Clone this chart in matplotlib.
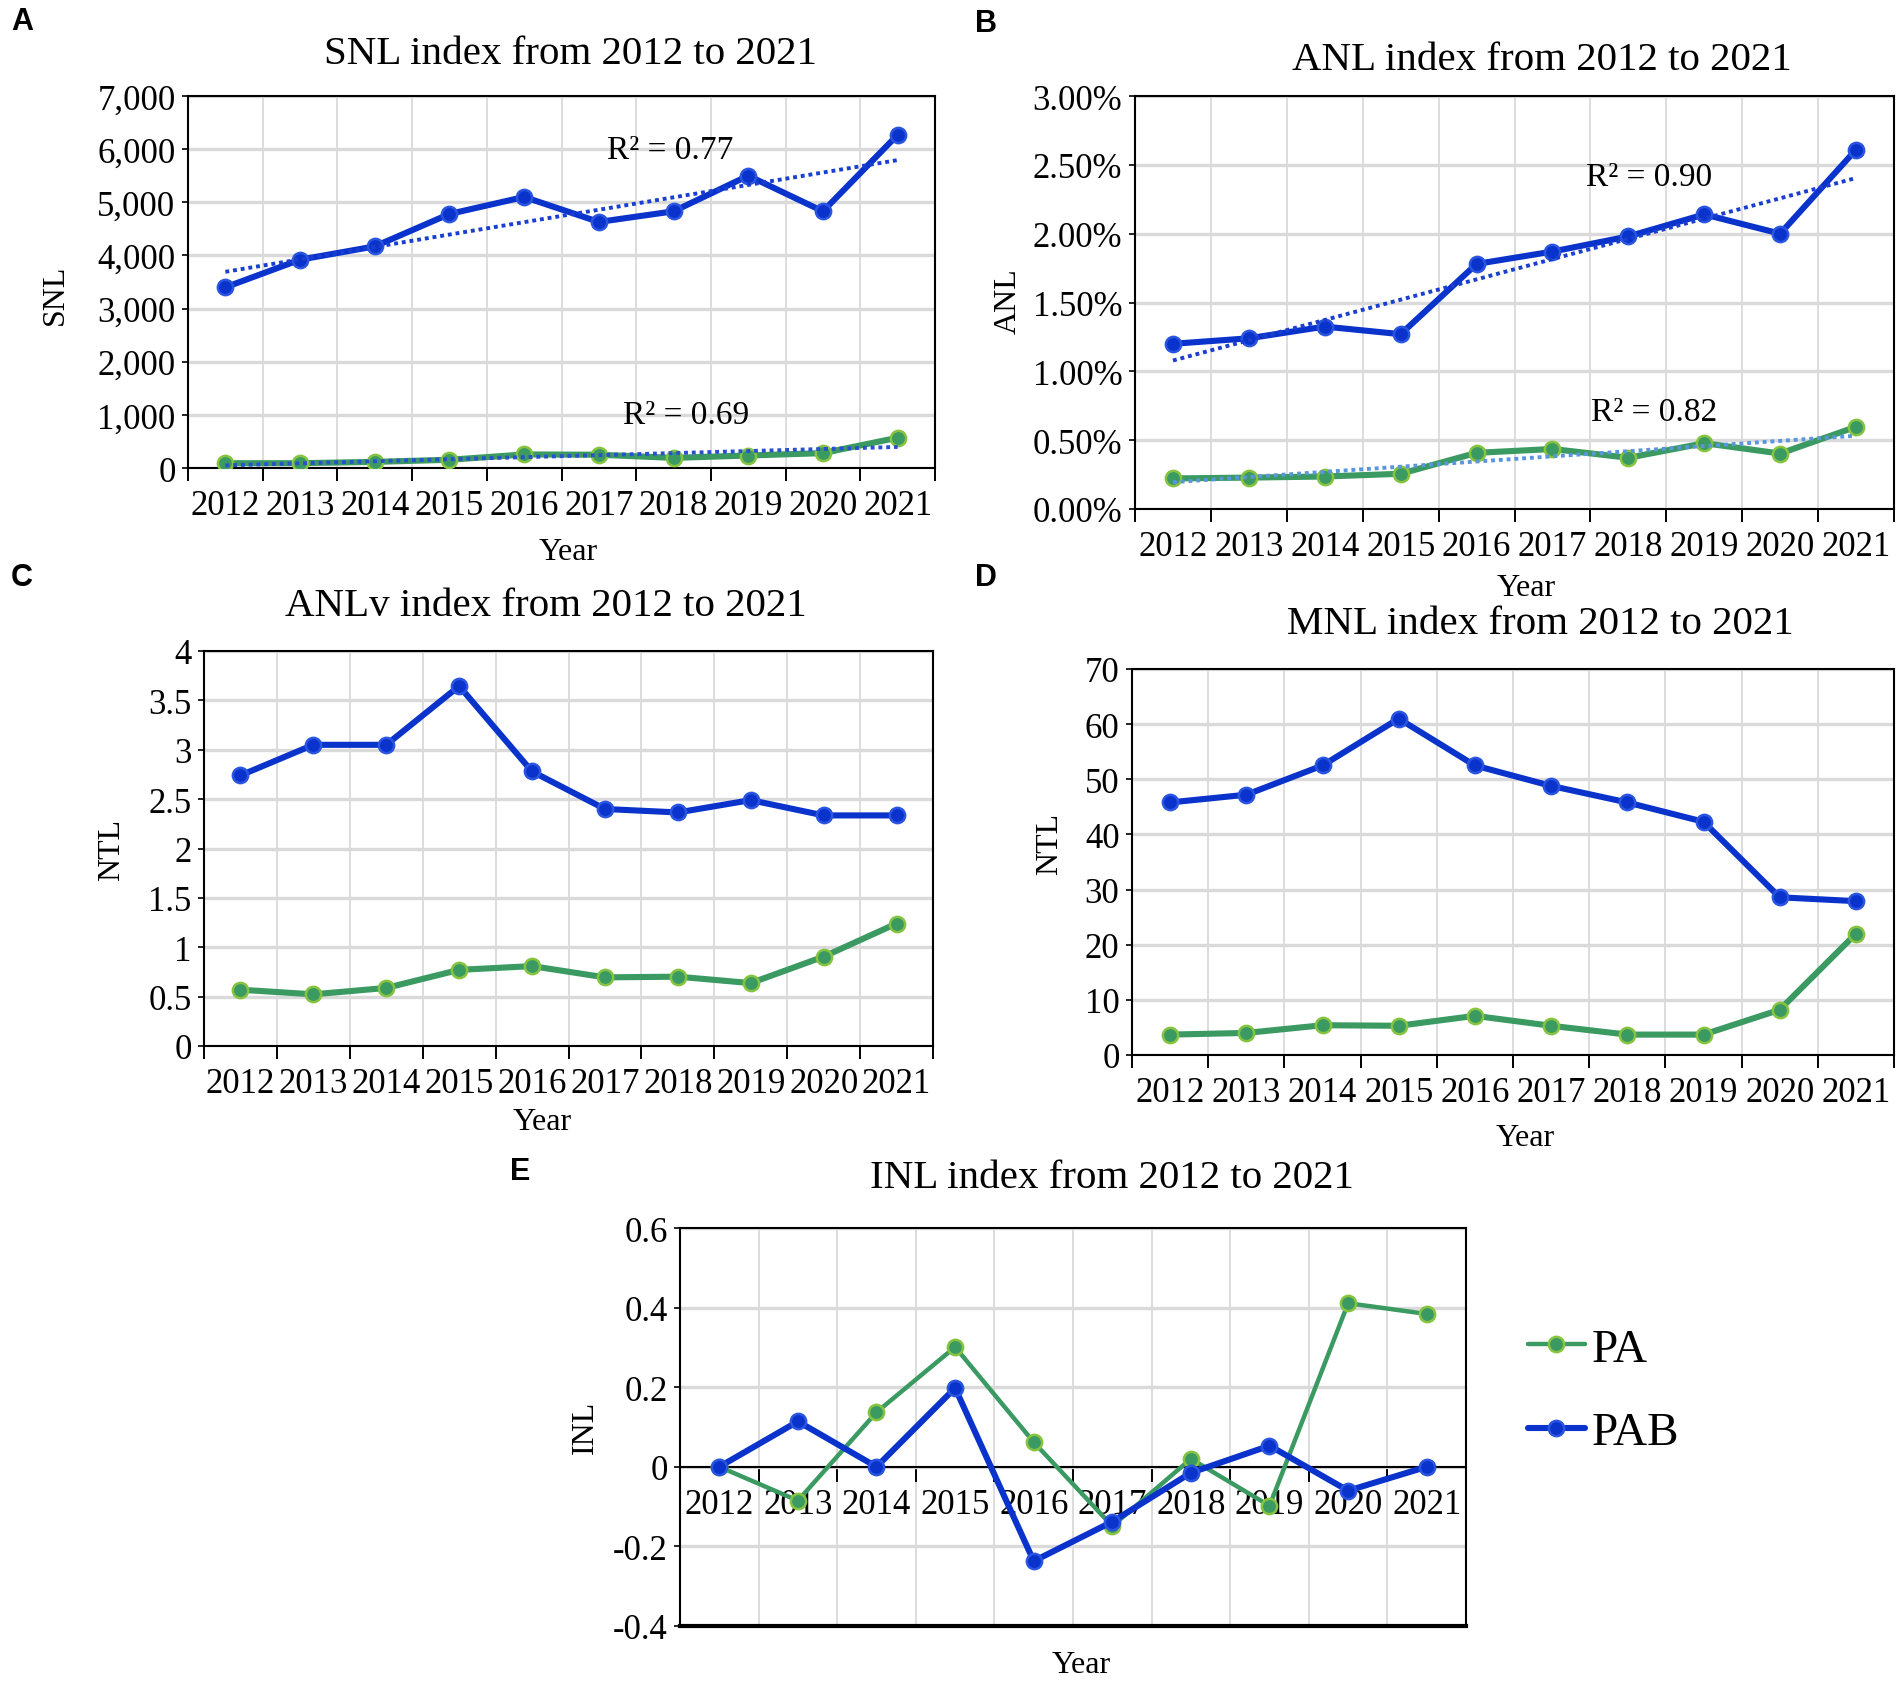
import numpy as np
import matplotlib.pyplot as plt
from matplotlib.ticker import FuncFormatter

plt.rcParams['font.family'] = 'Liberation Serif'
plt.rcParams['axes.unicode_minus'] = False

years = [str(y) for y in range(2012, 2022)]

# A: SNL
snl_pab = [3400, 3920, 4170, 4780, 5100, 4630, 4830, 5500, 4830, 6270]
snl_pa = [90, 90, 115, 155, 255, 250, 190, 235, 280, 570]
# B: ANL (%)
anl_pab = [1.20, 1.24, 1.325, 1.27, 1.78, 1.87, 1.98, 2.14, 2.00, 2.61]
anl_pa = [0.222, 0.228, 0.236, 0.256, 0.408, 0.436, 0.372, 0.478, 0.403, 0.597]
# C: ANLv
anlv_pab = [2.74, 3.05, 3.05, 3.645, 2.78, 2.40, 2.365, 2.49, 2.335, 2.335]
anlv_pa = [0.57, 0.523, 0.588, 0.771, 0.809, 0.695, 0.702, 0.637, 0.905, 1.24]
# D: MNL
mnl_pab = [45.8, 47.2, 52.5, 61.0, 52.5, 48.8, 45.8, 42.3, 28.6, 27.9]
mnl_pa = [3.7, 4.0, 5.4, 5.3, 7.1, 5.3, 3.7, 3.7, 8.2, 22.0]
# E: INL
inl_pab = [0.0, 0.114, 0.0, 0.198, -0.237, -0.138, -0.015, 0.053, -0.060, 0.0]
inl_pa = [0.0, -0.085, 0.137, 0.301, 0.062, -0.149, 0.020, -0.098, 0.411, 0.384]

BLUE, BLUE_EDGE = '#0a33cc', '#2a55e0'
GREEN, GREEN_EDGE = '#3a9a62', '#86c440'

W, H = 1904, 1683
fig = plt.figure(figsize=(W / 100, H / 100), dpi=100)


def px_axes(l, t, r, b):
    return fig.add_axes([l / W, 1 - b / H, (r - l) / W, (b - t) / H])


def ftext(x, y, s, **kw):
    fig.text(x / W, 1 - y / H, s, ha='center', va='center', **kw)


def style(ax, lo, hi, step, fmt):
    n = len(years)
    ax.set_xlim(-0.5, n - 0.5)
    ax.set_ylim(lo, hi)
    ax.set_yticks(np.arange(lo, hi + step / 2, step))
    ax.yaxis.set_major_formatter(FuncFormatter(lambda v, p: fmt(v)))
    ax.set_xticks(np.arange(-0.5, n, 1))
    ax.set_xticklabels([])
    ax.set_xticks(np.arange(n), minor=True)
    ax.set_xticklabels(years, minor=True)
    ax.tick_params(axis='x', which='major', length=9, width=1.4, direction='out')
    ax.tick_params(axis='x', which='minor', length=0, pad=15, labelsize=25,
                   labelfontfamily='Liberation Serif')
    ax.tick_params(axis='y', length=4, width=1.2, labelsize=25, pad=5,
                   labelfontfamily='Liberation Serif')
    ax.grid(axis='y', color='#dadada', lw=2.4)
    ax.grid(axis='x', which='major', color='#dadada', lw=1.3)
    ax.set_axisbelow(True)
    for s in ax.spines.values():
        s.set_linewidth(1.5)


def series(ax, vals, c, ec, lw=4.4):
    return ax.plot(np.arange(len(vals)), vals, color=c, lw=lw, marker='o', ms=11,
                   mfc=c, mec=ec, mew=1.8, solid_capstyle='round', zorder=3)[0]


def trend(ax, vals, color):
    x = np.arange(len(vals))
    k, b = np.polyfit(x, vals, 1)
    ax.plot(x, k * x + b, ls=(0, (1, 1.0)), color=color, lw=2.8, zorder=4)


# ---- A
axA = px_axes(188, 97, 935, 469)
style(axA, 0, 7000, 1000, lambda v: f'{v:,.0f}')
series(axA, snl_pa, GREEN, GREEN_EDGE)
series(axA, snl_pab, BLUE, BLUE_EDGE)
trend(axA, snl_pab, '#1a3fd0')
trend(axA, snl_pa, '#2a50d0')
axA.text(5.95, 5980, 'R² = 0.77', fontsize=24, ha='center', va='center')
axA.text(6.17, 1000, 'R² = 0.69', fontsize=24, ha='center', va='center')

# ---- B
axB = px_axes(1135, 97, 1894, 510)
style(axB, 0, 3.0, 0.5, lambda v: f'{v:.2f}%')
series(axB, anl_pa, GREEN, GREEN_EDGE)
series(axB, anl_pab, BLUE, BLUE_EDGE)
trend(axB, anl_pab, '#1a3fd0')
trend(axB, anl_pa, '#5b95dd')
axB.text(6.27, 2.41, 'R² = 0.90', fontsize=24, ha='center', va='center')
axB.text(6.34, 0.705, 'R² = 0.82', fontsize=24, ha='center', va='center')

# ---- C
axC = px_axes(204, 652, 933, 1047)
style(axC, 0, 4, 0.5, lambda v: f'{v:g}')
series(axC, anlv_pa, GREEN, GREEN_EDGE)
series(axC, anlv_pab, BLUE, BLUE_EDGE)

# ---- D
axD = px_axes(1132, 670, 1894, 1056)
style(axD, 0, 70, 10, lambda v: f'{v:g}')
series(axD, mnl_pa, GREEN, GREEN_EDGE)
series(axD, mnl_pab, BLUE, BLUE_EDGE)

# ---- E
axE = px_axes(680, 1229, 1466, 1627)
style(axE, -0.4, 0.6, 0.2, lambda v: '0' if abs(v) < 1e-9 else f'{v:.1f}')
axE.spines['bottom'].set_position(('data', 0))
axE.axhline(-0.4, color='black', lw=3, zorder=5, clip_on=False)
axE.tick_params(axis='x', which='major', length=11)
hpa = series(axE, inl_pa, GREEN, GREEN_EDGE, lw=3.2)
hpab = series(axE, inl_pab, BLUE, BLUE_EDGE, lw=4.4)
fig.legend([hpa, hpab], ['PA', 'PAB'], loc='center left',
           bbox_to_anchor=(1528 / W, 1 - 1392 / H), frameon=False, fontsize=34,
           handlelength=1.2, handletextpad=0.15, labelspacing=0.85,
           borderpad=0, borderaxespad=0)

# titles / labels
ftext(571, 55, 'SNL index from 2012 to 2021', fontsize=29.5)
ftext(1542, 61, 'ANL index from 2012 to 2021', fontsize=29.5)
ftext(546, 607, 'ANLv index from 2012 to 2021', fontsize=29.5)
ftext(1540, 625, 'MNL index from 2012 to 2021', fontsize=29.5)
ftext(1112, 1178, 'INL index from 2012 to 2021', fontsize=29.5)

for x, y in [(568, 552), (1526, 589), (542, 1123), (1525, 1139), (1081, 1666)]:
    ftext(x, y, 'Year', fontsize=23)
for x, y, s in [(55, 295, 'SNL'), (1008, 301, 'ANL'), (112, 850, 'NTL'),
                (1050, 844, 'NTL'), (585, 1427, 'INL')]:
    ftext(x, y, s, fontsize=23, rotation=90)

for x, y, s in [(22, 22, 'A'), (986, 24, 'B'), (22, 578, 'C'), (986, 578, 'D'), (520, 1172, 'E')]:
    ftext(x, y, s, fontsize=22, fontweight='bold', family='Liberation Sans')

fig.savefig('out.png', dpi=100)
